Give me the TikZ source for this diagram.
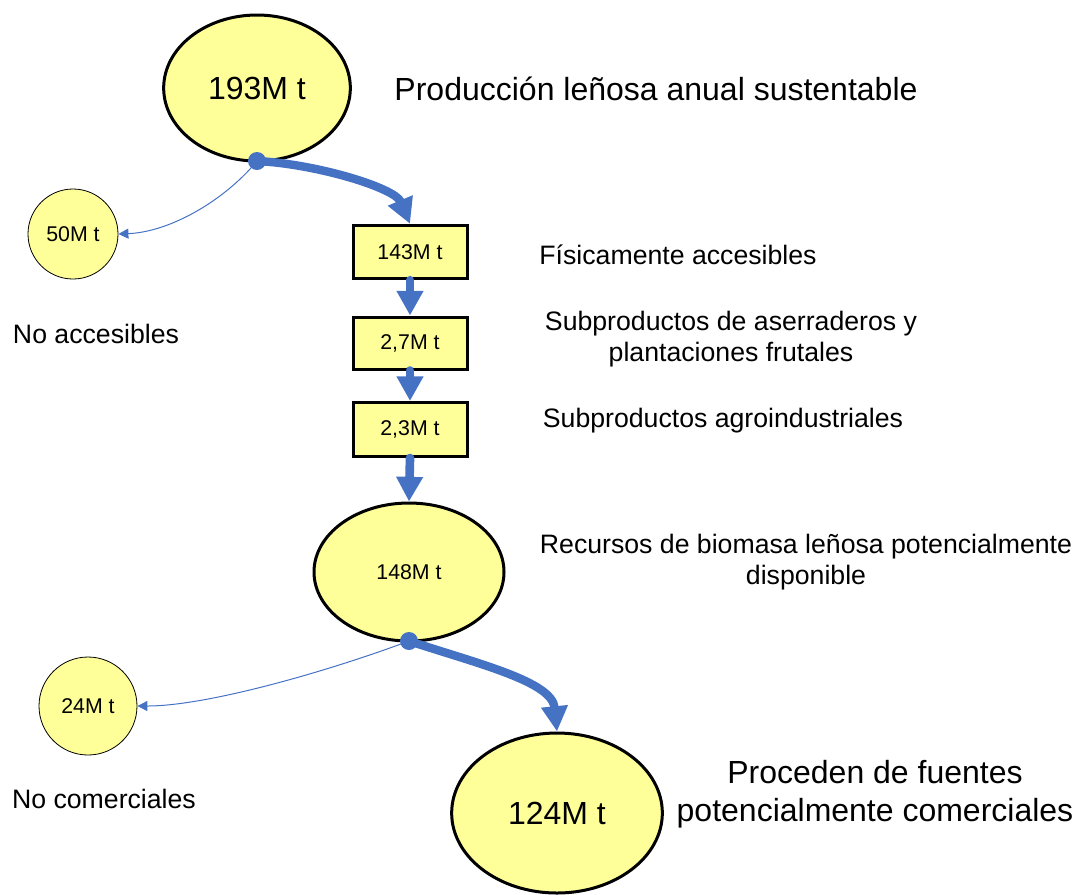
\documentclass[tikz,border=0pt]{standalone}
\usepackage{fontspec}
\setmainfont{Liberation Sans}
\usetikzlibrary{shapes.geometric,arrows.meta}
\definecolor{fillY}{RGB}{255,255,153}
\definecolor{flowB}{RGB}{70,114,196}
\newcommand{\fbig}{\fontsize{24}{28.5}\selectfont}
\newcommand{\fmid}{\fontsize{20}{22.8}\selectfont}
\newcommand{\fsmall}{\fontsize{16}{18}\selectfont}
\tikzset{
  bigell/.style={ellipse, draw=black, line width=2.25pt, fill=fillY, inner sep=0pt},
  smallcirc/.style={circle, draw=black, line width=0.6pt, fill=fillY, inner sep=0pt, font=\fsmall},
  valbox/.style={rectangle, draw=black, line width=2.25pt, fill=fillY, minimum width=85.5pt, inner sep=0pt, font=\fsmall},
  label/.style={align=center, inner sep=0pt},
  flowdot/.style={circle, fill=flowB, minimum size=13.5pt, inner sep=0pt},
  thickflow/.style={draw=flowB, line width=6.3pt, -{Triangle[width=19pt,length=19pt]}},
  vflow/.style={draw=flowB, line width=6.5pt, line cap=round, -{Triangle[width=19pt,length=18.5pt]}},
  thinflow/.style={draw=flowB, line width=0.75pt, -{Triangle[width=7.5pt,length=7.5pt]}}
}
\begin{document}
\begin{tikzpicture}[x=0.75pt,y=-0.75pt]
\useasboundingbox (0,0) rectangle (1077,894);
% nodes
\node[bigell, font=\fbig, minimum width=140pt, minimum height=109.5pt] (e193) at (257,88) {193M t};
\node[label, font=\fbig] (t193) at (656,89) {Producción leñosa anual sustentable};
\node[valbox, minimum height=40pt] (b143) at (410,252) {143M t};
\node[label, font=\fmid] (t143) at (678,255) {Físicamente accesibles};
\node[valbox, minimum height=39pt] (b27) at (410,343) {2,7M t};
\node[label, font=\fmid] (t27) at (731,339) {Subproductos de aserraderos y\\plantaciones frutales};
\node[valbox, minimum height=40.5pt] (b23) at (410,429.5) {2,3M t};
\node[label, font=\fmid] (t23) at (723,421) {Subproductos agroindustriales};
\node[bigell, font=\fsmall, minimum width=142.5pt, minimum height=103.5pt] (e148) at (409,572) {148M t};
\node[label, font=\fmid] (t148) at (806,562) {Recursos de biomasa leñosa potencialmente\\disponible};
\node[smallcirc, minimum size=67.5pt] (c50) at (73,234) {50M t};
\node[label, font=\fmid] (t50) at (96,334) {No accesibles};
\node[smallcirc, minimum size=73.5pt] (c24) at (88,706) {24M t};
\node[label, font=\fmid] (t24) at (104,799) {No comerciales};
\node[bigell, font=\fbig, minimum width=158pt, minimum height=120pt] (e124) at (557,813) {124M t};
\node[label, font=\fbig] (t124) at (875,794) {Proceden de fuentes\\potencialmente comerciales};
% split points
\coordinate (p1) at (257,161);
\coordinate (p2) at (409,641);
% connectors
\draw[thinflow] (p1) .. controls +(-32,39) and +(52,-2) .. (c50.east);
\draw[thickflow] (p1) .. controls +(60,3) and +(-15,-36) .. (b143.north);
\draw[vflow] (b143.south) -- (b27.north);
\draw[vflow] (b27.south) -- (b23.north);
\draw[vflow] (b23.south) -- (e148.north);
\draw[thinflow] (p2) .. controls +(-80,30) and +(70,0) .. (c24.east);
\draw[thickflow] (p2) .. controls +(70,23) and +(-5,-50) .. (e124.north);
\node[flowdot] (d1) at (p1) {};
\node[flowdot] (d2) at (p2) {};
\end{tikzpicture}
\end{document}
